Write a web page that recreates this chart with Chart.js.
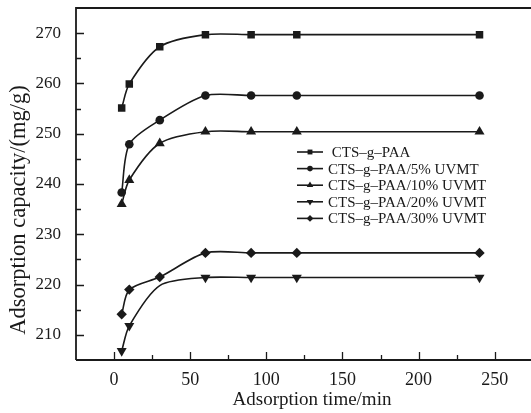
<!DOCTYPE html>
<html>
<head>
<meta charset="utf-8">
<script src="https://cdn.jsdelivr.net/npm/chart.js@4"></script>
<style>
  html, body { margin: 0; padding: 0; background: #fff; }
  #wrap { width: 531px; height: 413px; }
</style>
</head>
<body>
<div id="wrap"><canvas id="c" width="531" height="413"></canvas></div>
<script>
// Adsorption time (min)
const times = [5, 10, 30, 60, 90, 120, 240];

// Adsorption capacity (mg/g) for each sample
const ctsPaa     = [255.1, 259.9, 267.3, 269.7, 269.7, 269.7, 269.7];
const uvmt5      = [238.3, 247.9, 252.7, 257.6, 257.6, 257.6, 257.6];
const uvmt10     = [236.0, 240.8, 248.1, 250.4, 250.4, 250.4, 250.4];
const uvmt20     = [206.8, 211.8, 219.8, 221.4, 221.4, 221.4, 221.4];
const uvmt30     = [214.1, 219.0, 221.5, 226.3, 226.3, 226.3, 226.3];

// The 30 min reading of the 20% sample sits on the curve without a marker
const hiddenMarkers = [[], [], [], [2], []];

const seriesLabels = [
  'CTS\u2013g\u2013PAA',
  'CTS\u2013g\u2013PAA/5% UVMT',
  'CTS\u2013g\u2013PAA/10% UVMT',
  'CTS\u2013g\u2013PAA/20% UVMT',
  'CTS\u2013g\u2013PAA/30% UVMT'
];

// Axis ticks
const xTicks = [0, 50, 100, 150, 200, 250];
const xMinorTicks = [25, 75, 125, 175, 225];
const yTicks = [210, 220, 230, 240, 250, 260, 270];
const yMinorTicks = [215, 225, 235, 245, 255, 265];

const xTitle = 'Adsorption time/min';
const yTitle = 'Adsorption capacity/(mg/g)';

const INK = '#1a1a1a';
const SERIF = '"Liberation Serif", "DejaVu Serif", serif';

const markers = [
  { pointStyle: 'rect', radius: 5.3, rotation: 0 },
  { pointStyle: 'circle', radius: 4.3, rotation: 0 },
  { pointStyle: 'triangle', radius: 5.8, rotation: 0 },
  { pointStyle: 'triangle', radius: 5.8, rotation: 180 },
  { pointStyle: 'rectRot', radius: 5.2, rotation: 0 }
];

const allValues = [ctsPaa, uvmt5, uvmt10, uvmt20, uvmt30];

const datasets = allValues.map((vals, i) => ({
  label: seriesLabels[i],
  data: times.map((t, j) => ({ x: t, y: vals[j] })),
  borderColor: INK,
  backgroundColor: INK,
  borderWidth: 1.6,
  pointStyle: markers[i].pointStyle,
  pointRadius: times.map((t, j) => hiddenMarkers[i].includes(j) ? 0 : markers[i].radius),
  markerSize: markers[i].radius,
  pointRotation: markers[i].rotation,
  pointBorderWidth: 0,
  pointBackgroundColor: INK,
  tension: 0.28,
  fill: false
}));

// Draws a small marker shape for the legend rows
function legendMarker(ctx, style, r, rotation, cx, cy) {
  ctx.save();
  ctx.translate(cx, cy);
  ctx.rotate(rotation * Math.PI / 180);
  ctx.beginPath();
  if (style === 'rect') {
    const s = r * Math.SQRT1_2;
    ctx.rect(-s, -s, 2 * s, 2 * s);
  } else if (style === 'circle') {
    ctx.arc(0, 0, r, 0, Math.PI * 2);
  } else if (style === 'triangle') {
    for (let k = 0; k < 3; k++) {
      const ang = k * 2 * Math.PI / 3;
      const px = Math.sin(ang) * r, py = -Math.cos(ang) * r;
      if (k === 0) ctx.moveTo(px, py); else ctx.lineTo(px, py);
    }
    ctx.closePath();
  } else if (style === 'rectRot') {
    ctx.moveTo(0, -r); ctx.lineTo(r, 0); ctx.lineTo(0, r); ctx.lineTo(-r, 0);
    ctx.closePath();
  }
  ctx.fill();
  ctx.restore();
}

// Frame, inward tick marks, axis titles and the in-plot legend
const decorations = {
  id: 'decorations',
  afterDraw(chart) {
    const { ctx, chartArea: a, scales: { x, y } } = chart;
    ctx.save();
    ctx.strokeStyle = INK;
    ctx.lineWidth = 1.8;
    ctx.beginPath();
    ctx.moveTo(a.left, a.bottom);
    ctx.lineTo(a.left, a.top);
    ctx.lineTo(chart.width, a.top);
    ctx.moveTo(a.left, a.bottom);
    ctx.lineTo(chart.width, a.bottom);
    ctx.stroke();

    ctx.lineWidth = 1.3;
    ctx.beginPath();
    xTicks.forEach(v => { const p = Math.round(x.getPixelForValue(v)) + 0.5; ctx.moveTo(p, a.bottom); ctx.lineTo(p, a.bottom - 8); });
    xMinorTicks.forEach(v => { const p = Math.round(x.getPixelForValue(v)) + 0.5; ctx.moveTo(p, a.bottom); ctx.lineTo(p, a.bottom - 5); });
    yTicks.forEach(v => { const p = Math.round(y.getPixelForValue(v)) + 0.5; ctx.moveTo(a.left, p); ctx.lineTo(a.left + 8, p); });
    yMinorTicks.forEach(v => { const p = Math.round(y.getPixelForValue(v)) + 0.5; ctx.moveTo(a.left, p); ctx.lineTo(a.left + 5, p); });
    ctx.stroke();

    // axis titles
    ctx.fillStyle = INK;
    ctx.font = '19px ' + SERIF;
    ctx.textAlign = 'center';
    ctx.textBaseline = 'alphabetic';
    ctx.fillText(xTitle, 312, 405);
    ctx.save();
    ctx.translate(25, 210);
    ctx.rotate(-Math.PI / 2);
    ctx.font = '22.5px ' + SERIF;
    ctx.fillText(yTitle, 0, 0);
    ctx.restore();

    // legend
    const lx = 297, ly = 152, rowH = 16.6, lineW = 26;
    ctx.font = '15px ' + SERIF;
    ctx.textAlign = 'left';
    ctx.textBaseline = 'middle';
    chart.data.datasets.forEach((ds, i) => {
      const cy = ly + i * rowH;
      ctx.strokeStyle = INK;
      ctx.lineWidth = 1.6;
      ctx.beginPath();
      ctx.moveTo(lx, cy);
      ctx.lineTo(lx + lineW, cy);
      ctx.stroke();
      ctx.fillStyle = INK;
      legendMarker(ctx, ds.pointStyle, ds.markerSize * 0.65, ds.pointRotation, lx + lineW / 2, cy);
      ctx.fillText((i === 0 ? ' ' : '') + ds.label, lx + lineW + 5, cy + 1);
    });
    ctx.restore();
  }
};

new Chart(document.getElementById('c'), {
  type: 'line',
  data: { datasets },
  plugins: [decorations],
  options: {
    responsive: false,
    devicePixelRatio: 1,
    animation: false,
    events: [],
    layout: { padding: { top: 8, right: 1, left: 0, bottom: 0 } },
    plugins: {
      legend: { display: false },
      tooltip: { enabled: false },
      title: { display: false }
    },
    scales: {
      x: {
        type: 'linear',
        min: -25,
        max: 270,
        grid: { display: false, drawTicks: false },
        border: { display: false },
        afterBuildTicks: s => { s.ticks = xTicks.map(v => ({ value: v })); },
        afterFit: s => { s.height = 53; s.paddingLeft = 0; s.paddingRight = 0; },
        ticks: {
          color: INK,
          padding: 9,
          maxRotation: 0,
          autoSkip: false,
          font: { family: SERIF, size: 18 }
        }
      },
      y: {
        type: 'linear',
        min: 205,
        max: 275,
        grid: { display: false, drawTicks: false },
        border: { display: false },
        afterBuildTicks: s => { s.ticks = yTicks.map(v => ({ value: v })); },
        afterFit: s => { s.width = 76; s.paddingTop = 0; s.paddingBottom = 0; },
        ticks: {
          color: INK,
          padding: 15,
          autoSkip: false,
          font: { family: SERIF, size: 17 }
        }
      }
    }
  }
});
</script>
</body>
</html>
